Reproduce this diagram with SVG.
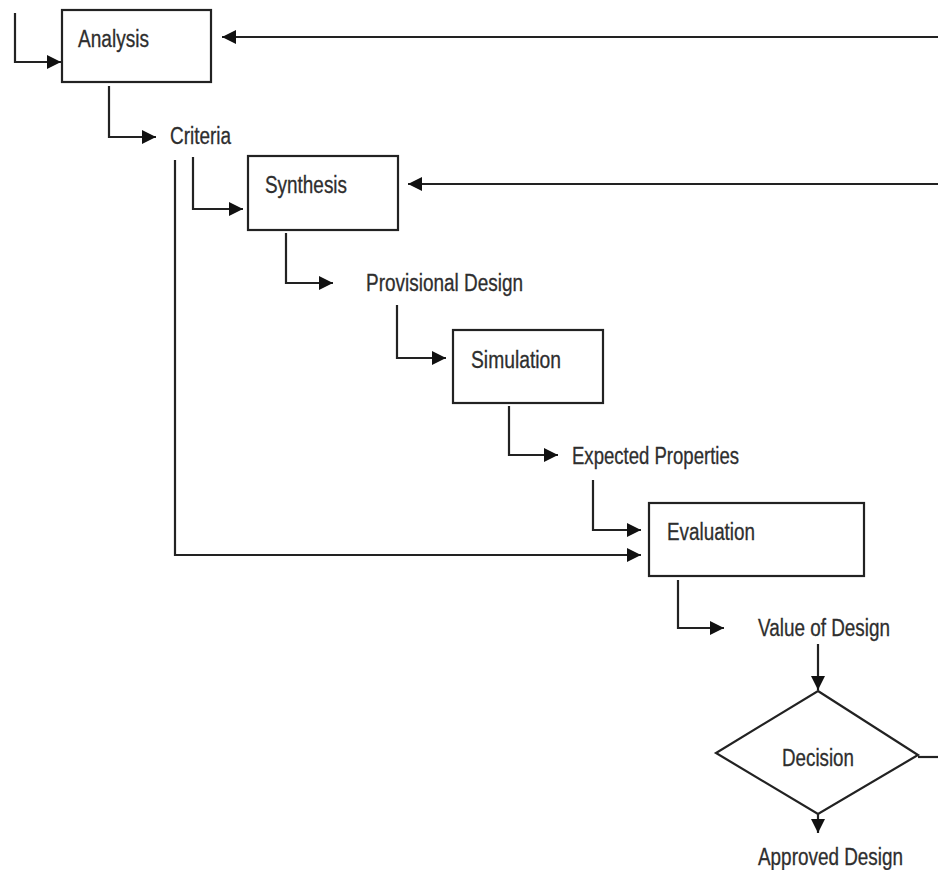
<svg xmlns="http://www.w3.org/2000/svg" width="938" height="870" viewBox="0 0 938 870">
  <defs>
    <marker id="arrow" markerWidth="15" markerHeight="14" refX="14" refY="7" orient="auto" markerUnits="userSpaceOnUse">
      <path d="M0,0 L14,7 L0,14 Z" fill="#111111"/>
    </marker>
  </defs>
  <style>
    .box { fill: #ffffff; stroke: #222222; stroke-width: 2.2; }
    .wire { fill: none; stroke: #222222; stroke-width: 2.2; }
    .lbl { font-family: "Liberation Sans", Arial, sans-serif; font-size: 23px; fill: #2e2e2e; stroke: #2e2e2e; stroke-width: 0.3; }
  </style>
  <rect x="0" y="0" width="938" height="870" fill="#ffffff"/>

  <g id="connectors">
    <!-- entry into Analysis -->
    <path class="wire" d="M15,13 V62 H61" marker-end="url(#arrow)"/>
    <!-- feedback into Analysis -->
    <path class="wire" d="M938,37 H222" marker-end="url(#arrow)"/>
    <!-- Analysis to Criteria -->
    <path class="wire" d="M109,86 V137 H156" marker-end="url(#arrow)"/>
    <!-- Criteria to Synthesis -->
    <path class="wire" d="M193,157 V209 H243" marker-end="url(#arrow)"/>
    <!-- Criteria to Evaluation -->
    <path class="wire" d="M175,160 V555 H641" marker-end="url(#arrow)"/>
    <!-- feedback into Synthesis -->
    <path class="wire" d="M938,184 H408" marker-end="url(#arrow)"/>
    <!-- Synthesis to Provisional Design -->
    <path class="wire" d="M286,233 V283 H333" marker-end="url(#arrow)"/>
    <!-- Provisional Design to Simulation -->
    <path class="wire" d="M397,305 V358 H446" marker-end="url(#arrow)"/>
    <!-- Simulation to Expected Properties -->
    <path class="wire" d="M509,406 V455 H558" marker-end="url(#arrow)"/>
    <!-- Expected Properties to Evaluation -->
    <path class="wire" d="M593,480 V530 H641" marker-end="url(#arrow)"/>
    <!-- Evaluation to Value of Design -->
    <path class="wire" d="M678,580 V628 H724" marker-end="url(#arrow)"/>
    <!-- Value of Design to Decision -->
    <path class="wire" d="M818,644 V690" marker-end="url(#arrow)"/>
    <!-- Decision outgoing right -->
    <path class="wire" d="M918,757 H938"/>
    <!-- Decision to Approved Design -->
    <path class="wire" d="M818,783 V833" marker-end="url(#arrow)"/>
  </g>

  <g id="analysis">
    <rect class="box" x="62" y="10" width="149" height="72"/>
    <text class="lbl" x="78" y="47" textLength="71" lengthAdjust="spacingAndGlyphs">Analysis</text>
  </g>

  <g id="criteria">
    <text class="lbl" x="170" y="144" textLength="61" lengthAdjust="spacingAndGlyphs">Criteria</text>
  </g>

  <g id="synthesis">
    <rect class="box" x="248" y="156" width="150" height="74"/>
    <text class="lbl" x="265" y="193" textLength="82" lengthAdjust="spacingAndGlyphs">Synthesis</text>
  </g>

  <g id="provisional-design">
    <text class="lbl" x="366" y="291" textLength="157" lengthAdjust="spacingAndGlyphs">Provisional Design</text>
  </g>

  <g id="simulation">
    <rect class="box" x="453" y="330" width="150" height="73"/>
    <text class="lbl" x="471" y="368" textLength="90" lengthAdjust="spacingAndGlyphs">Simulation</text>
  </g>

  <g id="expected-properties">
    <text class="lbl" x="572" y="464" textLength="167" lengthAdjust="spacingAndGlyphs">Expected Properties</text>
  </g>

  <g id="evaluation">
    <rect class="box" x="649" y="503" width="215" height="73"/>
    <text class="lbl" x="667" y="540" textLength="88" lengthAdjust="spacingAndGlyphs">Evaluation</text>
  </g>

  <g id="value-of-design">
    <text class="lbl" x="758" y="636" textLength="132" lengthAdjust="spacingAndGlyphs">Value of Design</text>
  </g>

  <g id="decision">
    <polygon class="box" points="818,691 918,755 818,814 716,753"/>
    <text class="lbl" x="782" y="766" textLength="72" lengthAdjust="spacingAndGlyphs">Decision</text>
  </g>

  <g id="approved-design">
    <text class="lbl" x="758" y="865" textLength="145" lengthAdjust="spacingAndGlyphs">Approved Design</text>
  </g>
</svg>
